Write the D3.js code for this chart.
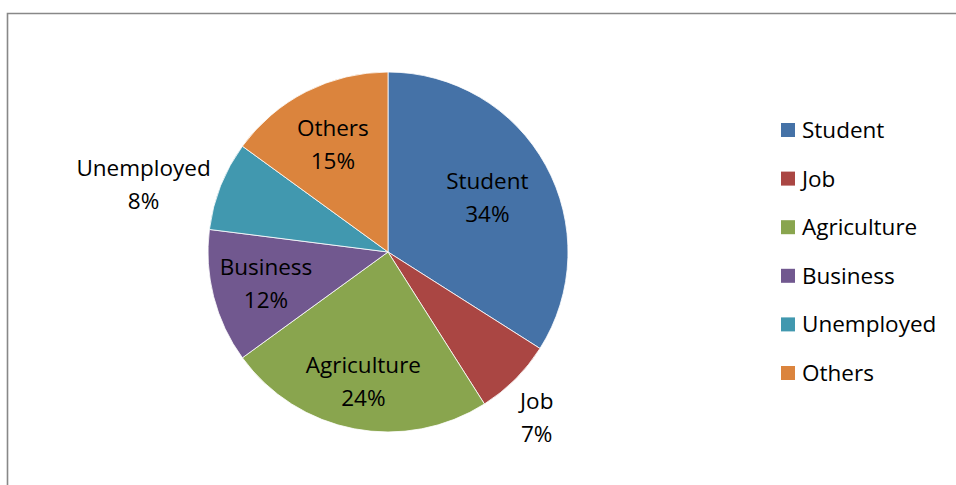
<!DOCTYPE html>
<html>
<head>
<meta charset="utf-8">
<script src="https://cdn.jsdelivr.net/npm/d3@7"></script>
<style>
  html, body { margin: 0; padding: 0; background: #fff; }
  svg { display: block; }
  text { font-family: "Open Sans", "Noto Sans", sans-serif; fill: #000; }
</style>
</head>
<body>
<svg id="chart" width="956" height="485"></svg>
<script>
// Occupation shares (percent)
const categories = ["Student", "Job", "Agriculture", "Business", "Unemployed", "Others"];
const shares = [34, 7, 24, 12, 8, 15];
const colors = ["#4572A7", "#AA4643", "#89A54E", "#71588F", "#4198AF", "#DB843D"];

const data = categories.map((c, i) => ({ name: c, value: shares[i] }));

const svg = d3.select("#chart");
const W = 956, H = 485;

// Chart frame (runs past the right and bottom edges)
svg.append("path")
  .attr("d", `M7.5,${H + 2} V13.5 H${W + 2}`)
  .attr("fill", "none")
  .attr("stroke", "#888")
  .attr("stroke-width", 1.6);

const cx = 388, cy = 252, R = 180;
const color = d3.scaleOrdinal().domain(categories).range(colors);

const pie = d3.pie().value(d => d.value).sort(null);
const arcs = pie(data);
const arc = d3.arc().innerRadius(0).outerRadius(R);

const g = svg.append("g").attr("transform", `translate(${cx},${cy})`);

g.selectAll("path.slice")
  .data(arcs)
  .join("path")
  .attr("class", "slice")
  .attr("d", arc)
  .attr("fill", d => color(d.data.name))
  .attr("stroke", "#fff")
  .attr("stroke-width", 0.8);

// Label placement: radius as a fraction of R, plus an angular nudge (degrees)
// for the small slices whose labels sit outside the pie
const labelPlace = {
  Student:     { r: 0.63,  da: 0 },
  Job:         { r: 1.235, da: 3 },
  Agriculture: { r: 0.73,  da: 0 },
  Business:    { r: 0.70,  da: 0 },
  Unemployed:  { r: 1.41,  da: -6 },
  Others:      { r: 0.675, da: 0 }
};
const fontSize = 22.5;

arcs.forEach(d => {
  const p = labelPlace[d.data.name];
  const mid = (d.startAngle + d.endAngle) / 2 + p.da * Math.PI / 180;
  const r = R * p.r;
  const x = Math.sin(mid) * r;
  const y = -Math.cos(mid) * r;
  const t = g.append("text")
    .attr("text-anchor", "middle")
    .attr("font-size", fontSize);
  t.append("tspan").attr("x", x).attr("y", y - 8).text(d.data.name);
  t.append("tspan").attr("x", x).attr("y", y + 25).text(d.data.value + "%");
});

// Legend
const legend = svg.append("g").attr("transform", "translate(781,130)");
const rowH = 48.6;
categories.forEach((c, i) => {
  const row = legend.append("g").attr("transform", `translate(0,${i * rowH})`);
  row.append("rect").attr("x", 0).attr("y", -7).attr("width", 14).attr("height", 14)
    .attr("fill", color(c));
  row.append("text").attr("x", 21).attr("y", 8).attr("font-size", fontSize).text(c);
});
</script>
</body>
</html>
